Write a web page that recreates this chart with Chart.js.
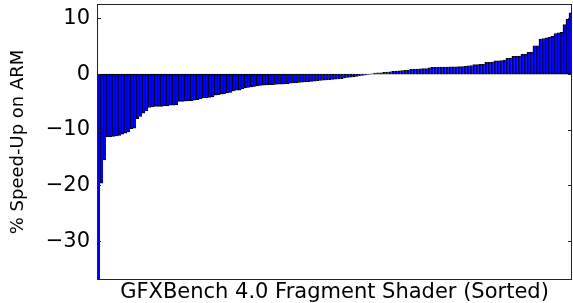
<!DOCTYPE html>
<html>
<head>
<meta charset="utf-8">
<script src="https://cdn.jsdelivr.net/npm/chart.js@4/dist/chart.umd.min.js"></script>
<style>
html,body{margin:0;padding:0;background:#fff;}
canvas{display:block;}
</style>
</head>
<body>
<canvas id="c" width="573" height="303"></canvas>
<script>
// Sorted per-shader speed-up values (% on ARM)
const speedUp = [
  -37, -19.6, -15.4, -11.3, -11.3, -11.2, -11.1, -11.0, -10.8, -10.6,
  -10.4, -9.8, -9.7, -8.0, -7.6, -7.0, -6.6, -6.0, -5.9, -5.8,
  -5.8, -5.8, -5.7, -5.7, -5.6, -5.6, -5.5, -4.9, -4.9, -4.85,
  -4.8, -4.8, -4.7, -4.6, -4.4, -4.3, -4.3, -4.2, -4.1, -3.8,
  -3.7, -3.6, -3.5, -3.4, -3.3, -3.0, -2.9, -2.9, -2.6, -2.5,
  -2.4, -2.3, -2.2, -2.1, -2.05, -2.0, -1.95, -1.9, -1.9, -1.85,
  -1.8, -1.8, -1.75, -1.7, -1.65, -1.6, -1.55, -1.5, -1.45, -1.4,
  -1.35, -1.3, -1.25, -1.2, -1.15, -1.1, -1.05, -1.0, -0.95, -0.9,
  -0.85, -0.8, -0.7, -0.6, -0.55, -0.5, -0.4, -0.3, -0.25, -0.15,
  -0.05, 0.05, 0.2, 0.25, 0.25, 0.3, 0.35, 0.4, 0.5, 0.55,
  0.6, 0.65, 0.7, 0.7, 0.85, 0.9, 0.9, 0.95, 1.0, 1.0,
  1.15, 1.2, 1.2, 1.25, 1.25, 1.25, 1.25, 1.3, 1.3, 1.3,
  1.35, 1.35, 1.4, 1.5, 1.55, 1.7, 1.7, 1.75, 1.75, 2.1,
  2.1, 2.15, 2.4, 2.4, 2.45, 2.5, 2.85, 2.9, 3.2, 3.2,
  3.25, 3.6, 3.6, 3.9, 3.95, 5.1, 5.1, 6.3, 6.4, 6.5,
  6.6, 6.8, 7.3, 7.4, 7.5, 8.9, 9.9, 11.0
];
const shaders = speedUp.map((_, i) => 'Shader ' + (i + 1));
const yTickValues = [-30, -20, -10, 0, 10];
const yMin = -37;
const yMax = 12.6;
const xTitle = 'GFXBench 4.0 Fragment Shader (Sorted)';
const yTitle = '% Speed-Up on ARM';

const fmt = v => (v < 0 ? '\u2212' + Math.abs(v) : String(v));

const frame = {
  id: 'frame',
  afterDatasetsDraw(chart) {
    const {ctx, chartArea: a, scales: {y}} = chart;
    ctx.save();
    ctx.strokeStyle = '#222';
    ctx.lineWidth = 1;
    ctx.beginPath();
    y.ticks.forEach(t => {
      const py = Math.round(y.getPixelForValue(t.value)) + 0.5;
      ctx.moveTo(a.left, py); ctx.lineTo(a.left + 4, py);
      ctx.moveTo(a.right - 4, py); ctx.lineTo(a.right, py);
    });
    ctx.stroke();
    ctx.strokeRect(a.left + 0.5, a.top + 0.5, a.right - a.left - 1, a.bottom - a.top - 1);
    ctx.restore();
  }
};

new Chart(document.getElementById('c'), {
  type: 'bar',
  data: {
    labels: shaders,
    datasets: [{
      data: speedUp,
      backgroundColor: '#0000ff',
      borderColor: '#000000',
      borderWidth: {left: 1, top: 1, bottom: 1, right: 0},
      borderSkipped: false,
      barPercentage: 1,
      categoryPercentage: 1
    }]
  },
  options: {
    responsive: false,
    animation: false,
    devicePixelRatio: 1,
    layout: {padding: {top: 4, right: 1, left: 0, bottom: 0}},
    plugins: {legend: {display: false}, tooltip: {enabled: false}},
    scales: {
      x: {
        type: 'category',
        grid: {display: false},
        border: {display: false},
        ticks: {display: false},
        title: {display: true, text: xTitle, color: '#000',
                font: {family: 'DejaVu Sans', size: 21}, padding: {top: 0, bottom: -2}},
        afterFit: s => { s.height = 23; s.paddingLeft = 0; s.paddingRight = 0; }
      },
      y: {
        min: yMin,
        max: yMax,
        grid: {display: false, drawTicks: false},
        border: {display: false},
        afterBuildTicks: s => { s.ticks = yTickValues.map(v => ({value: v})); },
        ticks: {color: '#000', padding: 7, font: {family: 'DejaVu Sans', size: 21},
                callback: v => fmt(v)},
        title: {display: true, text: yTitle, color: '#000',
                font: {family: 'DejaVu Sans', size: 18}, padding: {top: 8, bottom: 0}},
        afterFit: s => { s.width = 97; s.paddingTop = 0; s.paddingBottom = 0; }
      }
    }
  },
  plugins: [frame]
});
</script>
</body>
</html>
